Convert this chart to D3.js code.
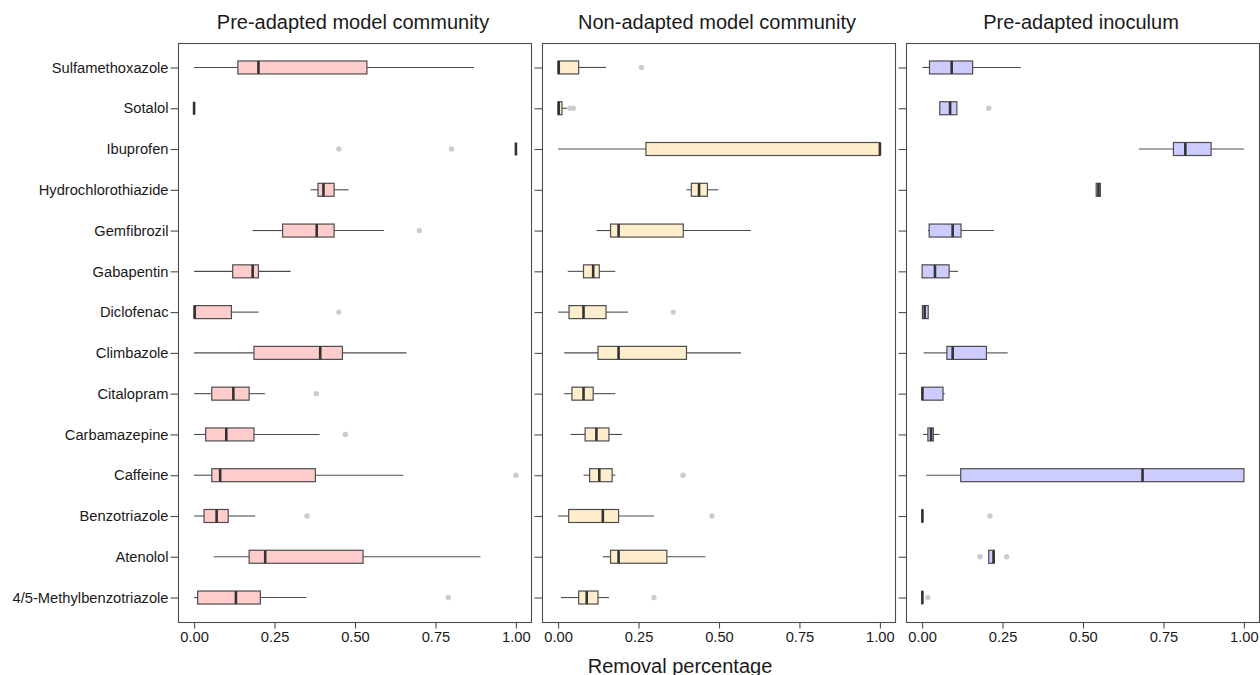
<!DOCTYPE html>
<html>
<head>
<meta charset="utf-8">
<script src="https://cdn.jsdelivr.net/npm/d3@7.9.0/dist/d3.min.js"></script>
<style>
  body { margin: 0; background: #fff; }
  text { font-family: "Liberation Sans", Arial, sans-serif; }
</style>
</head>
<body>
<div id="chart"></div>
<script>
// compounds, top to bottom
const compounds = ["Sulfamethoxazole", "Sotalol", "Ibuprofen", "Hydrochlorothiazide", "Gemfibrozil",
  "Gabapentin", "Diclofenac", "Climbazole", "Citalopram", "Carbamazepine", "Caffeine",
  "Benzotriazole", "Atenolol", "4/5-Methylbenzotriazole"];

const panelTitles = ["Pre-adapted model community", "Non-adapted model community", "Pre-adapted inoculum"];
const panelFills = ["#ffcccc", "#ffeecc", "#ccccff"];
const xTicks = [0, 0.25, 0.5, 0.75, 1];

// [whisker low, q1, median, q3, whisker high] per compound
const preAdaptedStats = [
  [0, 0.136, 0.20, 0.537, 0.87],
  [0, 0, 0, 0, 0],
  [1, 1, 1, 1, 1],
  [0.362, 0.385, 0.402, 0.435, 0.48],
  [0.182, 0.275, 0.381, 0.435, 0.59],
  [0, 0.12, 0.182, 0.20, 0.30],
  [0, 0, 0.002, 0.116, 0.20],
  [0, 0.186, 0.392, 0.461, 0.66],
  [0, 0.055, 0.122, 0.171, 0.22],
  [0, 0.036, 0.10, 0.186, 0.39],
  [0, 0.055, 0.081, 0.377, 0.65],
  [0, 0.031, 0.07, 0.106, 0.19],
  [0.061, 0.171, 0.221, 0.525, 0.89],
  [0, 0.011, 0.13, 0.206, 0.349]
];
const preAdaptedOutliers = [[], [], [0.45, 0.80], [], [0.70], [], [0.45], [], [0.38], [0.47], [1.0], [0.351], [], [0.79]];

const nonAdaptedStats = [
  [0, 0, 0.002, 0.064, 0.149],
  [0, 0, 0.002, 0.012, 0.028],
  [0, 0.273, 1.0, 1.0, 1.0],
  [0.399, 0.414, 0.438, 0.464, 0.498],
  [0.12, 0.163, 0.188, 0.389, 0.599],
  [0.03, 0.079, 0.109, 0.128, 0.178],
  [0, 0.034, 0.079, 0.149, 0.217],
  [0.019, 0.124, 0.188, 0.399, 0.568],
  [0.019, 0.043, 0.079, 0.109, 0.178],
  [0.039, 0.084, 0.119, 0.158, 0.199],
  [0.079, 0.098, 0.128, 0.168, 0.178],
  [0, 0.033, 0.139, 0.188, 0.298],
  [0.139, 0.163, 0.188, 0.338, 0.458],
  [0.009, 0.064, 0.089, 0.124, 0.158]
];
const nonAdaptedOutliers = [[0.259], [0.037, 0.047], [], [], [], [], [0.358], [], [], [], [0.388], [0.478], [], [0.298]];

const inoculumStats = [
  [0.001, 0.023, 0.092, 0.157, 0.307],
  [0.052, 0.055, 0.087, 0.108, 0.108],
  [0.674, 0.781, 0.818, 0.898, 1.0],
  [0.541, 0.541, 0.548, 0.554, 0.554],
  [0.018, 0.022, 0.095, 0.121, 0.224],
  [0, 0, 0.04, 0.084, 0.112],
  [0, 0.001, 0.008, 0.019, 0.019],
  [0.005, 0.077, 0.095, 0.20, 0.266],
  [0, 0, 0.001, 0.065, 0.07],
  [0.003, 0.018, 0.028, 0.035, 0.054],
  [0.013, 0.12, 0.685, 1.0, 1.0],
  [0, 0, 0.001, 0.001, 0.001],
  [0.207, 0.207, 0.222, 0.224, 0.224],
  [0, 0, 0.001, 0.001, 0.001]
];
const inoculumOutliers = [[], [0.207], [], [], [], [], [], [], [], [], [], [0.211], [0.18, 0.263], [0.018]];

const panelStats = [preAdaptedStats, nonAdaptedStats, inoculumStats];
const panelOutliers = [preAdaptedOutliers, nonAdaptedOutliers, inoculumOutliers];

const width = 1260, height = 675;
const panelLeft = [178, 542, 906];
const panelWidth = 354;
const panelTop = 43, panelBottom = 622;
const lineCol = "#4d4d4d";
const textCol = "#1a1a1a";
const fontStack = "'Liberation Sans', Arial, sans-serif";

const svg = d3.select("#chart").append("svg")
  .attr("width", width).attr("height", height);

const y = d3.scalePoint().domain(compounds).range([panelTop, panelBottom]).padding(0.6);
const boxH = 13;

panelTitles.forEach((title, p) => {
  const x0 = panelLeft[p];
  const x = d3.scaleLinear().domain([-0.05, 1.05]).range([x0, x0 + panelWidth]);
  const g = svg.append("g");
  const stats = panelStats[p];
  const outs = panelOutliers[p];

  // title
  svg.append("text")
    .attr("x", x0 + panelWidth / 2 - 2).attr("y", 28.5)
    .attr("text-anchor", "middle")
    .attr("font-size", 20).attr("fill", textCol)
    .text(title);

  // boxes
  compounds.forEach((c, i) => {
    const [lo, q1, med, q3, hi] = stats[i];
    const cy = y(c);
    outs[i].forEach(v => {
      g.append("circle").attr("cx", x(v)).attr("cy", cy).attr("r", 2.7)
        .attr("fill", "#cccccc");
    });
    g.append("line").attr("x1", x(lo)).attr("x2", x(q1)).attr("y1", cy).attr("y2", cy)
      .attr("stroke", lineCol).attr("stroke-width", 1.1);
    g.append("line").attr("x1", x(q3)).attr("x2", x(hi)).attr("y1", cy).attr("y2", cy)
      .attr("stroke", lineCol).attr("stroke-width", 1.1);
    g.append("rect").attr("x", x(q1)).attr("y", cy - boxH / 2)
      .attr("width", Math.max(0, x(q3) - x(q1))).attr("height", boxH)
      .attr("fill", panelFills[p]).attr("stroke", lineCol).attr("stroke-width", 1.2);
    g.append("line").attr("x1", x(med)).attr("x2", x(med))
      .attr("y1", cy - boxH / 2).attr("y2", cy + boxH / 2)
      .attr("stroke", "#333333").attr("stroke-width", 2.6);
  });

  // panel border
  svg.append("rect").attr("x", x0 + 0.5).attr("y", panelTop + 0.5)
    .attr("width", panelWidth - 1).attr("height", panelBottom - panelTop)
    .attr("fill", "none").attr("stroke", lineCol).attr("stroke-width", 1.1);

  // x axis
  const xAxis = d3.axisBottom(x).tickValues(xTicks).tickFormat(d3.format(".2f"))
    .tickSize(6).tickPadding(3);
  const ax = svg.append("g").attr("transform", `translate(0,${panelBottom + 0.5})`).call(xAxis);
  ax.select(".domain").remove();
  ax.selectAll("line").attr("stroke", lineCol).attr("stroke-width", 1.1);
  ax.selectAll("text").attr("font-size", 14.7).attr("fill", textCol)
    .style("font-family", fontStack);

  // y axis
  const yAxis = d3.axisLeft(y).tickSize(8).tickPadding(2)
    .tickFormat(p === 0 ? (d => d) : () => "");
  const ay = svg.append("g").attr("transform", `translate(${x0 + 0.5},0)`).call(yAxis);
  ay.select(".domain").remove();
  ay.selectAll("line").attr("stroke", lineCol).attr("stroke-width", 1.1);
  ay.selectAll("text").attr("font-size", 14.7).attr("fill", textCol)
    .style("font-family", fontStack);
});

svg.append("text")
  .attr("x", 680).attr("y", 673)
  .attr("text-anchor", "middle")
  .attr("font-size", 20).attr("fill", textCol)
  .text("Removal percentage");
</script>
</body>
</html>
